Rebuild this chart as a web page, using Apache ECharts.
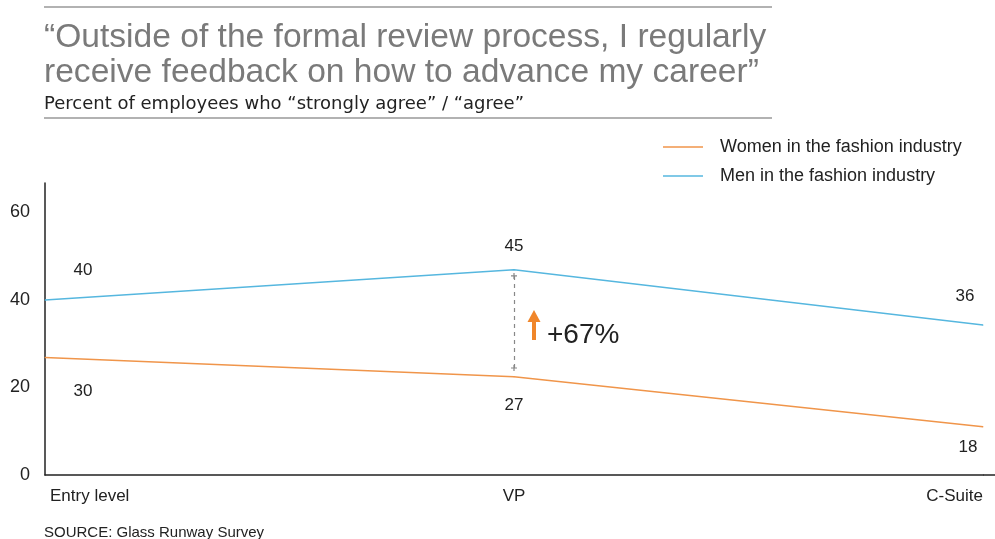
<!DOCTYPE html>
<html>
<head>
<meta charset="utf-8">
<script src="https://cdn.jsdelivr.net/npm/echarts@6/dist/echarts.min.js"></script>
<style>
  html, body { margin: 0; padding: 0; background: #fff; }
  #chart { width: 995px; height: 539px; }
</style>
</head>
<body>
<div id="chart"></div>
<script>
// categories on the x axis
var levels = ['Entry level', 'VP', 'C-Suite'];
// where the lines are drawn in the picture
var womenLine = [26.8, 22.4, 11.0];
var menLine = [39.9, 46.8, 34.2];
// numbers printed next to the points
var womenLabels = ['30', '27', '18'];
var menLabels = ['40', '45', '36'];
var yTicks = [0, 20, 40, 60];
var gapText = '+67%';

var font = "'Liberation Sans', Arial, sans-serif";
var orange = '#F0954A';
var blue = '#56B7DF';

// label offsets, relative to each point
var menOffsets = [[38, -30], [0, -23], [-18, -29]];
var womenOffsets = [[38, 34], [0, 29], [-15, 21]];

function buildData(values, labels, offsets) {
    return values.map(function (v, i) {
        return {
            value: v,
            label: { formatter: labels[i], offset: offsets[i] }
        };
    });
}

var option = {
    animation: false,
    backgroundColor: '#fff',
    textStyle: { fontFamily: font },
    title: [{
        text: '\u201COutside of the formal review process, I regularly\nreceive feedback on how to advance my career\u201D',
        left: 39,
        top: 15,
        textStyle: { fontSize: 33.6, fontWeight: 'normal', color: '#7a7a7a', lineHeight: 35, fontFamily: font }
    }, {
        text: 'Percent of employees who \u201Cstrongly agree\u201D / \u201Cagree\u201D',
        left: 39,
        top: 90,
        textStyle: { fontSize: 18, fontWeight: 'normal', color: '#222', fontFamily: "'DejaVu Sans', sans-serif" }
    }, {
        text: 'SOURCE: Glass Runway Survey',
        left: 39,
        top: 520,
        textStyle: { fontSize: 15, fontWeight: 'normal', color: '#222', fontFamily: font }
    }],
    legend: {
        orient: 'vertical',
        left: 658,
        top: 133,
        icon: 'rect',
        itemWidth: 40,
        itemHeight: 1.5,
        itemGap: 11,
        data: ['Women in the fashion industry', 'Men in the fashion industry'],
        textStyle: { fontSize: 18, color: '#222', padding: [0, 0, 0, 12], fontFamily: font }
    },
    grid: { left: 45, right: 12, top: 183, bottom: 64, containLabel: false },
    xAxis: {
        type: 'category',
        boundaryGap: false,
        data: levels,
        axisLine: { lineStyle: { color: '#222', width: 1.5 } },
        axisTick: { show: false },
        axisLabel: {
            fontSize: 17, color: '#222', margin: 13,
            alignMinLabel: 'left', alignMaxLabel: 'right',
            formatter: function (v, i) {
                return i === 0 ? '{first|' + v + '}' : v;
            },
            rich: { first: { fontSize: 17, color: '#222', padding: [0, 0, 0, 5] } }
        }
    },
    yAxis: {
        type: 'value',
        min: yTicks[0],
        max: 66.6,
        interval: yTicks[1] - yTicks[0],
        axisLine: { show: true, lineStyle: { color: '#222', width: 1.5 } },
        axisTick: { show: false },
        splitLine: { show: false },
        axisLabel: { fontSize: 18, color: '#222', margin: 15, showMaxLabel: false }
    },
    series: [{
        name: 'Women in the fashion industry',
        type: 'line',
        data: buildData(womenLine, womenLabels, womenOffsets),
        symbol: 'circle',
        symbolSize: 1,
        lineStyle: { color: orange, width: 1.5 },
        itemStyle: { color: orange },
        label: { show: true, position: 'inside', fontSize: 17, color: '#222' }
    }, {
        name: 'Men in the fashion industry',
        type: 'line',
        data: buildData(menLine, menLabels, menOffsets),
        symbol: 'circle',
        symbolSize: 1,
        lineStyle: { color: blue, width: 1.5 },
        itemStyle: { color: blue },
        label: { show: true, position: 'inside', fontSize: 17, color: '#222' },
        markLine: {
            silent: true,
            symbol: ['path://M4,0H6V4H10V6H6V10H4V6H0V4H4Z', 'path://M4,0H6V4H10V6H6V10H4V6H0V4H4Z'],
            symbolSize: 6,
            label: { show: false },
            lineStyle: { color: '#888', type: [4, 4], width: 1.2 },
            itemStyle: { color: '#888' },
            data: [[
                { coord: [1, menLine[1] - 1.4] },
                { coord: [1, womenLine[1] + 2] }
            ]]
        }
    }],
    graphic: [
        { type: 'line', shape: { x1: 44, y1: 7, x2: 772, y2: 7 }, style: { stroke: '#999', lineWidth: 1.5 } },
        { type: 'line', shape: { x1: 44, y1: 118, x2: 772, y2: 118 }, style: { stroke: '#999', lineWidth: 1.5 } },
        // x axis runs on a little past the last point
        { type: 'line', shape: { x1: 983, y1: 475, x2: 995, y2: 475 }, style: { stroke: '#222', lineWidth: 1.5 } },
        { type: 'rect', shape: { x: 532, y: 320, width: 4, height: 20 }, style: { fill: '#F0862A' } },
        { type: 'polygon', shape: { points: [[527.5, 322], [534, 310], [540.5, 322]] }, style: { fill: '#F0862A' } },
        {
            type: 'text', left: 547, top: 321,
            style: { text: gapText, fontSize: 28, fill: '#222', fontFamily: font }
        }
    ]
};

var myChart = echarts.init(document.getElementById('chart'));
myChart.setOption(option);
</script>
</body>
</html>
